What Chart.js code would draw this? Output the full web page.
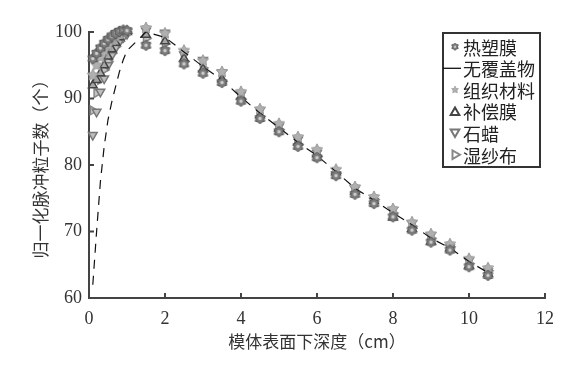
<!DOCTYPE html>
<html>
<head>
<meta charset="utf-8">
<script src="https://cdn.jsdelivr.net/npm/chart.js@4.4.0/dist/chart.umd.min.js"></script>
<style>
  html, body { margin: 0; padding: 0; background: #fff; }
  #wrap { width: 583px; height: 366px; }
</style>
</head>
<body>
<div id="wrap"><canvas id="depthChart"></canvas></div>
<script>
// depth below phantom surface (cm)
const depth = [0.1, 0.2, 0.3, 0.4, 0.5, 0.6, 0.7, 0.8, 0.9, 1.0,
  1.5, 2, 2.5, 3, 3.5, 4, 4.5, 5, 5.5, 6, 6.5, 7, 7.5, 8, 8.5, 9, 9.5, 10, 10.5];

// normalised pulse counts per cover material
const thermoFilm = [96.0, 96.8, 97.6, 98.3, 98.9, 99.4, 99.8, 100.1, 100.3, 100.2,
  98.0, 97.2, 95.2, 93.8, 92.4, 89.6, 87.0, 85.0, 82.8, 81.1, 78.4, 75.6, 74.2, 72.2, 70.2, 68.4, 67.2, 64.7, 63.4];
const noCover = [62.0, 70.0, 77.5, 82.8, 86.8, 89.5, 91.8, 94.0, 95.8, 97.2,
  100.0, 99.2, 97.0, 94.8, 92.8, 90.2, 87.8, 85.6, 83.4, 81.4, 79.0, 76.5, 74.7, 72.8, 71.0, 69.0, 67.5, 65.5, 63.8];
const tissue = [93.5, 95.0, 96.2, 97.2, 98.0, 98.8, 99.3, 99.7, 100.0, 100.2,
  100.6, 99.8, 97.2, 95.7, 94.0, 91.0, 88.4, 86.2, 84.2, 82.3, 79.3, 76.7, 75.2, 73.4, 71.4, 69.6, 68.1, 65.9, 64.5];
const compFilm = [92.0, 92.8, 93.8, 95.0, 96.3, 97.4, 98.4, 99.2, 99.8, 100.0,
  99.6, 98.6, 96.0, 94.4, 92.9, 90.3, 87.5, 85.5, 83.4, 81.6, 78.9, 76.0, 74.6, 72.1, 70.4, 68.5, 67.5, 64.9, 63.7];
const paraffin = [84.5, 88.0, 91.0, 93.0, 95.0, 96.5, 97.6, 98.5, 99.2, 99.7,
  100.2, 99.9, 96.6, 95.8, 93.9, 90.6, 88.2, 85.8, 83.8, 81.8, 78.6, 76.4, 74.6, 73.2, 71.2, 69.4, 67.6, 65.6, 64.0];
const wetGauze = [88.2, 90.8, 92.8, 94.3, 95.6, 96.8, 97.8, 98.6, 99.3, 99.8,
  99.0, 98.2, 95.6, 94.6, 92.6, 89.9, 87.3, 85.3, 83.1, 81.3, 78.8, 75.9, 74.8, 72.8, 70.8, 69.0, 67.7, 65.2, 64.1];

const xTicks = [0, 2, 4, 6, 8, 10, 12];
const yTicks = [60, 70, 80, 90, 100];

function pts(ys) { return depth.map((d, i) => ({ x: d, y: ys[i] })); }

// little canvas icons for the gear and the filled star
function polyIcon(r, n, inner, fill, stroke, dot) {
  const c = document.createElement('canvas');
  const s = Math.ceil(r * 2 + 2);
  c.width = c.height = s;
  const g = c.getContext('2d');
  const m = s / 2;
  g.beginPath();
  for (let k = 0; k < n * 2; k++) {
    const a = k * Math.PI / n - Math.PI / 2;
    const rr = k % 2 ? r * inner : r;
    g.lineTo(m + rr * Math.cos(a), m + rr * Math.sin(a));
  }
  g.closePath();
  g.fillStyle = fill; g.fill();
  g.strokeStyle = stroke; g.lineWidth = 1; g.stroke();
  if (dot) {
    g.beginPath(); g.arc(m, m, r * 0.3, 0, Math.PI * 2);
    g.fillStyle = dot; g.fill();
  }
  return c;
}
const gear = polyIcon(5.5, 6, 0.72, '#7c7c7c', '#555', '#cfcfcf');
const star = polyIcon(6, 5, 0.5, '#b0b0b0', '#999', null);

const datasets = [
  { label: '热塑膜', data: pts(thermoFilm), pointStyle: gear, showLine: false, clip: false },
  { label: '无覆盖物', data: pts(noCover), showLine: true, borderColor: '#111', borderWidth: 1.2,
    borderDash: [9, 7], pointRadius: 0, fill: false },
  { label: '组织材料', data: pts(tissue), pointStyle: star, showLine: false, clip: false },
  { label: '补偿膜', data: pts(compFilm), pointStyle: 'triangle', rotation: 0, showLine: false, clip: false,
    backgroundColor: '#a8a8a8', borderColor: '#444', borderWidth: 1.5, pointRadius: 5 },
  { label: '石蜡', data: pts(paraffin), pointStyle: 'triangle', rotation: 180, showLine: false, clip: false,
    backgroundColor: '#bdbdbd', borderColor: '#777', borderWidth: 1.5, pointRadius: 5 },
  { label: '湿纱布', data: pts(wetGauze), pointStyle: 'triangle', rotation: 90, showLine: false, clip: false,
    backgroundColor: '#c4c4c4', borderColor: '#888', borderWidth: 1.5, pointRadius: 5 }
];

// small ticks pointing into the plot
const innerTicks = {
  id: 'innerTicks',
  afterDraw(chart) {
    const { ctx, chartArea, scales } = chart;
    ctx.save();
    ctx.strokeStyle = '#444';
    ctx.lineWidth = 2;
    ctx.beginPath();
    xTicks.forEach(v => {
      const px = scales.x.getPixelForValue(v);
      ctx.moveTo(px, chartArea.bottom);
      ctx.lineTo(px, chartArea.bottom - 5);
    });
    yTicks.forEach(v => {
      const py = scales.y.getPixelForValue(v);
      ctx.moveTo(chartArea.left, py);
      ctx.lineTo(chartArea.left + 5, py);
    });
    ctx.stroke();
    ctx.restore();
  }
};

function triangle(ctx, x, y, r, rot) {
  ctx.beginPath();
  for (let k = 0; k < 3; k++) {
    const a = (rot - 90 + k * 120) * Math.PI / 180;
    ctx.lineTo(x + r * Math.cos(a), y + r * Math.sin(a));
  }
  ctx.closePath();
}

// legend box inside the top right of the plot
const boxLegend = {
  id: 'boxLegend',
  afterDraw(chart) {
    const { ctx, chartArea } = chart;
    const w = 97, h = 134, rowH = 21.6;
    const x0 = chartArea.right - 5 - w, y0 = chartArea.top + 1;
    ctx.save();
    ctx.fillStyle = '#fff';
    ctx.fillRect(x0, y0, w, h);
    ctx.strokeStyle = '#333';
    ctx.lineWidth = 2;
    ctx.strokeRect(x0, y0, w, h);
    ctx.font = '18px "Noto Sans CJK SC"';
    ctx.textBaseline = 'middle';
    chart.data.datasets.forEach((ds, i) => {
      const cy = y0 + 13.7 + i * rowH;
      const mx = x0 + 12;
      if (ds.showLine) {
        ctx.strokeStyle = '#111';
        ctx.lineWidth = 1.3;
        ctx.beginPath();
        ctx.moveTo(x0, cy); ctx.lineTo(x0 + 18, cy);
        ctx.stroke();
      } else if (typeof ds.pointStyle === 'object') {
        ctx.drawImage(ds.pointStyle, mx - 4.5, cy - 4.5, 9, 9);
      } else {
        ctx.fillStyle = '#fff';
        ctx.strokeStyle = ds.borderColor;
        ctx.lineWidth = 2;
        triangle(ctx, mx, cy + (ds.rotation === 0 ? 1 : ds.rotation === 180 ? -1 : 0), 5, ds.rotation);
        ctx.fill(); ctx.stroke();
      }
      ctx.fillStyle = '#222';
      ctx.fillText(ds.label, x0 + 20, cy + 1);
    });
    ctx.restore();
  }
};

const serif = "'Liberation Serif', 'DejaVu Serif', serif";

new Chart(document.getElementById('depthChart'), {
  type: 'scatter',
  data: { datasets },
  options: {
    responsive: true,
    maintainAspectRatio: false,
    animation: false,
    devicePixelRatio: 1,
    layout: { padding: { left: 0, right: 38, top: 32, bottom: 0 } },
    elements: { point: { radius: 5, hoverRadius: 5 } },
    plugins: { legend: { display: false }, tooltip: { enabled: false } },
    scales: {
      x: {
        type: 'linear', min: 0, max: 12,
        afterBuildTicks: s => { s.ticks = xTicks.map(v => ({ value: v })); },
        afterFit: s => { s.height = 68; },
        ticks: { font: { family: serif, size: 18 }, color: '#333', padding: 10, maxRotation: 0 },
        grid: { drawOnChartArea: false, drawTicks: false },
        border: { color: '#444', width: 2 },
        title: { display: true, text: '模体表面下深度（cm）', color: '#333',
          font: { family: "'Noto Sans CJK SC', sans-serif", size: 17 }, padding: { top: 0, bottom: 14 } }
      },
      y: {
        min: 60, max: 100,
        afterBuildTicks: s => { s.ticks = yTicks.map(v => ({ value: v })); },
        afterFit: s => { s.width = 89; },
        ticks: { font: { family: serif, size: 18 }, color: '#333', padding: 7 },
        grid: { drawOnChartArea: false, drawTicks: false },
        border: { color: '#444', width: 2 },
        title: { display: true, text: '归一化脉冲粒子数（个）', color: '#333',
          font: { family: "'Noto Sans CJK SC', sans-serif", size: 17 }, padding: { top: 30, bottom: 0 } }
      }
    }
  },
  plugins: [innerTicks, boxLegend]
});
</script>
</body>
</html>
